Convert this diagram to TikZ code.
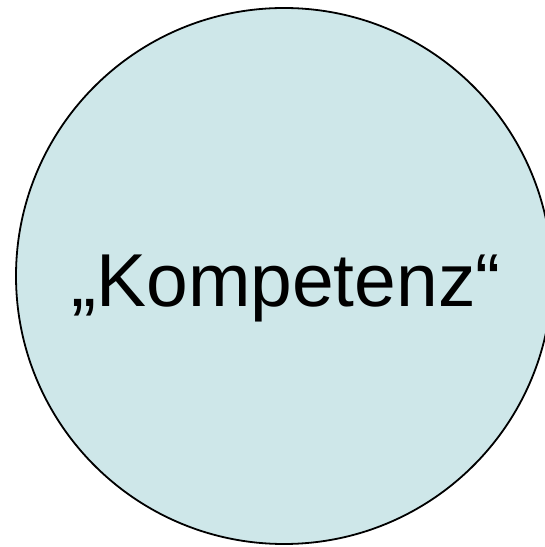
\documentclass[tikz,border=0pt]{standalone}
\usepackage{fontspec}
\setmainfont{Liberation Sans}
\definecolor{circfill}{RGB}{206,231,233}
\tikzset{bubble/.style={circle,draw=black,line width=1.8pt,fill=circfill,minimum size=536pt,inner sep=0pt}}
\begin{document}
\begin{tikzpicture}[x=1pt,y=1pt]
\useasboundingbox (0,0) rectangle (545,547);
\clip (0,0) rectangle (545,547);
\node[bubble] (c) at (284,271) {};
\node[anchor=base,inner sep=0pt,font=\fontsize{75}{78}\selectfont] (t) at (286,240) {„Kompetenz“};
\end{tikzpicture}
\end{document}
